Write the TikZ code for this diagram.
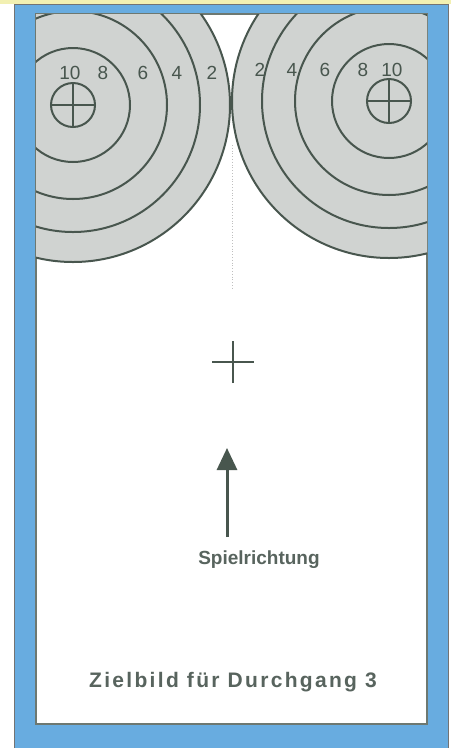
\documentclass[tikz,border=0pt]{standalone}
\usepackage{fontspec}
\setmainfont{Liberation Sans}
\newfontfamily\trackedfont[LetterSpace=11]{Liberation Sans}
\usetikzlibrary{arrows.meta, positioning}
\definecolor{frameblue}{RGB}{104,172,224}
\definecolor{stripyellow}{RGB}{242,240,178}
\definecolor{targetgray}{RGB}{208,211,209}
\definecolor{ringline}{RGB}{72,86,78}
\definecolor{labelgray}{RGB}{88,100,94}

\tikzset{
  ring/.style={ringline, line width=2pt},
  score/.style={ringline, font=\fontsize{19}{19}\selectfont, inner sep=0pt},
  caption/.style={labelgray, font=\bfseries, inner sep=0pt}
}

\begin{document}
\begin{tikzpicture}[x=1pt, y=-1pt]
  \useasboundingbox (0,0) rectangle (451,748);
  % Frame
  \fill[stripyellow] (0,0) rectangle (451,4);
  \filldraw[frameblue, draw=black!55, line width=0.6pt] (14,4) rectangle (448,748);
  \filldraw[white, draw=ringline!80, line width=1.5pt] (36,14) rectangle (427,724);
  % Target faces
  \coordinate (leftcentre) at (73,105);
  \coordinate (rightcentre) at (389,101);
  \begin{scope}
    \clip (36,14) rectangle (427,724);
    \fill[targetgray] (leftcentre) circle[radius=157pt];
    \fill[targetgray] (rightcentre) circle[radius=157pt];
    \foreach \r in {57,94,127,157} {
      \draw[ring] (leftcentre) circle[radius=\r pt];
      \draw[ring] (rightcentre) circle[radius=\r pt];
    }
  \end{scope}
  % Faint middle line
  \draw[black!25, dotted, line width=0.8pt] (232,145) -- (232,290);
  % Aiming crosses
  \foreach \c in {leftcentre, rightcentre} {
    \draw[ring] (\c) circle[radius=22pt];
    \draw[ring] ([xshift=-22pt]\c) -- ([xshift=22pt]\c);
    \draw[ring] ([yshift=-22pt]\c) -- ([yshift=22pt]\c);
  }
  % Scores
  \foreach \s/\x in {10/70, 8/103, 6/143, 4/177, 2/212}
    \node[score] (left\s) at (\x,73) {\s};
  \foreach \s/\x in {2/260, 4/292, 6/325, 8/363, 10/392}
    \node[score] (right\s) at (\x,70) {\s};
  % Centre mark
  \coordinate (centremark) at (233,362);
  \draw[ring] ([xshift=-21pt]centremark) -- ([xshift=21pt]centremark);
  \draw[ring] ([yshift=-21pt]centremark) -- ([yshift=21pt]centremark);
  % Direction of play
  \coordinate (arrowfoot) at (227,537);
  \coordinate (arrowtip) at (227,448);
  \draw[ringline, line width=3pt, -{Triangle[length=22pt, width=20pt]}] (arrowfoot) -- (arrowtip);
  \node[caption, font=\bfseries\fontsize{19}{19}\selectfont, below=14pt of arrowfoot, xshift=32pt] (direction) {Spielrichtung};
  \node[caption] (title) at (233,682) {\trackedfont\bfseries\fontsize{21}{21}\selectfont Zielbild für Durchgang 3};
\end{tikzpicture}
\end{document}
